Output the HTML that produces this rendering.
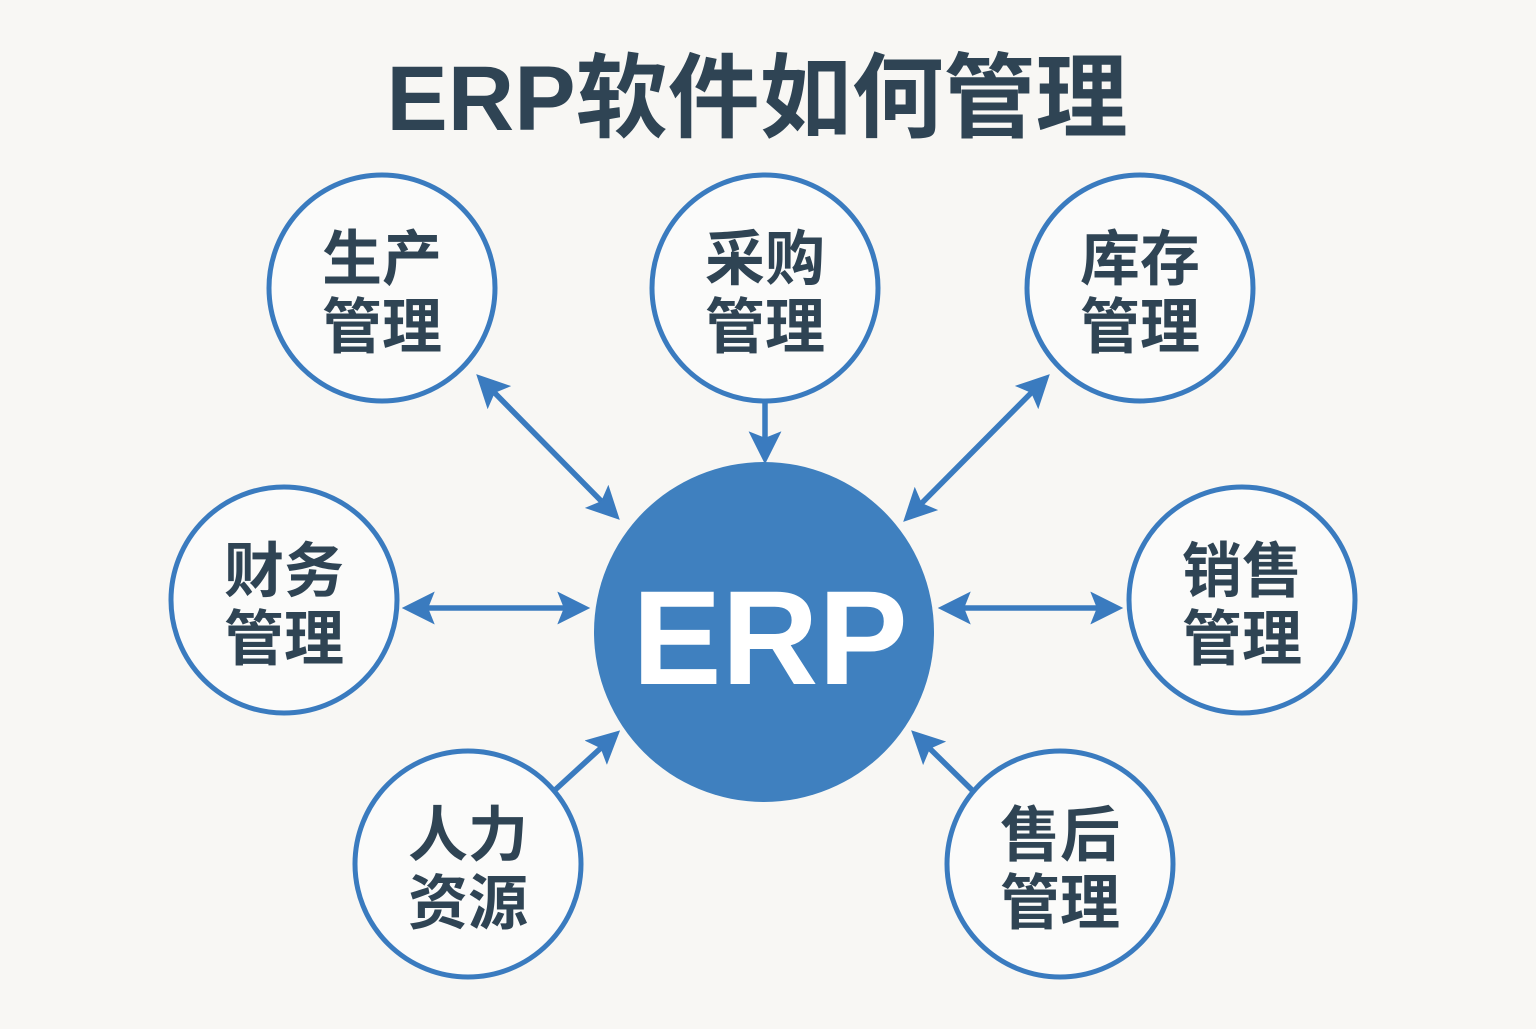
<!DOCTYPE html>
<html><head><meta charset="utf-8"><style>
html,body{margin:0;padding:0;background:#f8f7f4;}
body{width:1536px;height:1024px;overflow:hidden;}
svg text{font-family:"Liberation Sans","Noto Sans CJK SC",sans-serif;font-weight:bold;}
</style></head><body>
<svg width="1536" height="1024" viewBox="0 0 1536 1024" xmlns="http://www.w3.org/2000/svg">
<defs>
<marker id="ah" markerWidth="6" markerHeight="6" refX="4.5" refY="3" orient="auto-start-reverse" markerUnits="strokeWidth">
<path d="M0,0 L6,3 L0,6 L1.2,3 Z" fill="#3a7bbf"/>
</marker>
</defs>
<rect width="1536" height="1024" fill="#f8f7f4"/>
<text x="757" y="130" font-size="92" fill="#2f4454" text-anchor="middle">ERP软件如何管理</text>

<g fill="none" stroke="#3a7bbf" stroke-width="5.5">
<line x1="482" y1="380" x2="614" y2="514" marker-start="url(#ah)" marker-end="url(#ah)"/>
<line x1="765" y1="402" x2="765" y2="456" marker-end="url(#ah)"/>
<line x1="1044" y1="380" x2="909" y2="516" marker-start="url(#ah)" marker-end="url(#ah)"/>
<line x1="410" y1="608" x2="582" y2="608" marker-start="url(#ah)" marker-end="url(#ah)"/>
<line x1="946" y1="608" x2="1115" y2="608" marker-start="url(#ah)" marker-end="url(#ah)"/>
<line x1="555" y1="790" x2="614" y2="736" marker-end="url(#ah)"/>
<line x1="972" y1="790" x2="917" y2="736" marker-end="url(#ah)"/>
</g>

<g fill="#fbfbfa" stroke="#3a7bbf" stroke-width="5">
<circle cx="382" cy="288" r="113"/>
<circle cx="765" cy="288" r="113"/>
<circle cx="1140" cy="288" r="113"/>
<circle cx="284" cy="600" r="113"/>
<circle cx="1242" cy="600" r="113"/>
<circle cx="468" cy="864" r="113"/>
<circle cx="1060" cy="864" r="113"/>
</g>
<circle cx="764" cy="632" r="170" fill="#3f80bf"/>
<text x="770" y="684" font-size="134" fill="#ffffff" text-anchor="middle">ERP</text>

<g font-size="60" fill="#2f4454" text-anchor="middle">
<text x="382" y="280">生产</text><text x="382" y="348">管理</text>
<text x="765" y="280">采购</text><text x="765" y="348">管理</text>
<text x="1140" y="280">库存</text><text x="1140" y="348">管理</text>
<text x="284" y="592">财务</text><text x="284" y="660">管理</text>
<text x="1242" y="592">销售</text><text x="1242" y="660">管理</text>
<text x="468" y="856">人力</text><text x="468" y="924">资源</text>
<text x="1060" y="856">售后</text><text x="1060" y="924">管理</text>
</g>
</svg>
</body></html>
